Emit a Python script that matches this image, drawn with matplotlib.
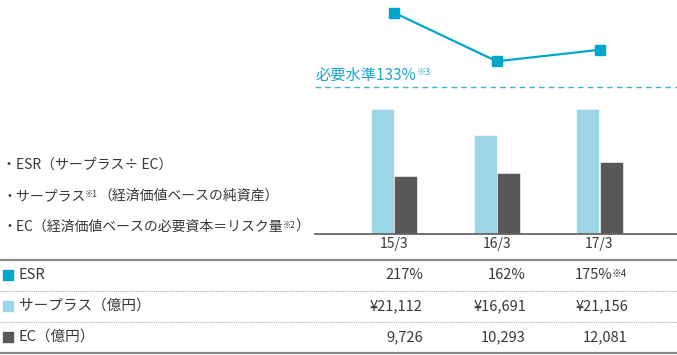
import matplotlib.pyplot as plt
from matplotlib.patches import Rectangle
from matplotlib.lines import Line2D

plt.rcParams['font.family'] = ['Noto Sans CJK JP', 'DejaVu Sans']

# data
periods = ["15/3", "16/3", "17/3"]
esr = [217, 162, 175]
surplus = [21112, 16691, 21156]
ec = [9726, 10293, 12081]
required_level = 133

esr_labels = ["217%", "162%", "175%"]
surplus_labels = ["¥21,112", "¥16,691", "¥21,156"]
ec_labels = ["9,726", "10,293", "12,081"]

c_esr = "#00a7cb"
c_surplus = "#9cd5e5"
c_ec = "#595757"
c_text = "#383838"

W, H = 677, 355
fig = plt.figure(figsize=(W / 100, H / 100), dpi=100)

# background axes in pixel coordinates for text / table layout
bg = fig.add_axes([0, 0, 1, 1])
bg.set_xlim(0, W)
bg.set_ylim(H, 0)
bg.axis("off")


def chain(x, y, parts, size=10, color=c_text):
    base = bg.text(x, y, parts[0][0], fontsize=size, color=color, va="center", ha="left")
    prev = base
    for s, kind in parts[1:]:
        if kind == "sup":
            prev = bg.annotate(s, xy=(1, 0.92), xycoords=prev, fontsize=size * 0.6,
                               color=color, va="top", ha="left")
        else:
            prev = bg.annotate(s, xy=(1, 0.5), xycoords=(prev, base), fontsize=size,
                               color=color, va="center", ha="left")
    return base


# left notes
chain(2, 165, [("・ESR（サープラス÷ EC）", "n")])
chain(2, 196, [("・サープラス", "n"), ("※1", "sup"), ("（経済価値ベースの純資産）", "n")])
chain(2, 227, [("・EC（経済価値ベースの必要資本＝リスク量", "n"), ("※2", "sup"), ("）", "n")])

# bar chart axes (baseline at y=234px, spanning x 315..677)
left_px, right_px, base_px = 315, 677, 234
ax = fig.add_axes([left_px / W, (H - base_px) / H, (right_px - left_px) / W, base_px / H])
ax.patch.set_alpha(0)
step = 102.75
x0 = 394
ax.set_xlim((left_px - x0) / step, (right_px - x0) / step)
ax.set_ylim(0, base_px / 125 * 21112)
xs = list(range(len(periods)))
bw = 0.224
ax.bar([i - bw / 2 for i in xs], surplus, width=bw, color=c_surplus, edgecolor="white", linewidth=0.4)
ax.bar([i + bw / 2 for i in xs], ec, width=bw, color=c_ec, edgecolor="white", linewidth=0.4)
for s in ["top", "right", "left"]:
    ax.spines[s].set_visible(False)
ax.spines["bottom"].set_color("#666666")
ax.spines["bottom"].set_linewidth(1.3)
ax.set_yticks([])
ax.set_xticks(xs)
ax.set_xticklabels(periods, fontsize=10, color=c_text)
ax.tick_params(axis="x", length=0, pad=2)

# ESR line on a twin axis
ax2 = ax.twinx()
ax2.set_ylim(162 - (base_px - 61.3) / 0.884, 162 + 61.3 / 0.884)
ax2.axis("off")
ax2.plot(xs, esr, color=c_esr, linewidth=1.6, marker="s", markersize=6.5)
ax2.axhline(required_level, color="#3eb1d5", linewidth=1, linestyle=(0, (4, 3)))
chain(316, 75, [("必要水準133%", "n"), ("※3", "sup")], size=11, color="#1ea6cc")

# table
bg.add_line(Line2D([0, W], [259.5, 259.5], color="#8a8a8a", linewidth=1.6))
bg.add_line(Line2D([0, W], [291, 291], color="#b0b0b0", linewidth=0.8, linestyle=(0, (1, 1))))
bg.add_line(Line2D([0, W], [322, 322], color="#b0b0b0", linewidth=0.8, linestyle=(0, (1, 1))))
bg.add_line(Line2D([0, W], [352.5, 352.5], color="#8a8a8a", linewidth=1.6))

rows_y = [275, 306, 337]
row_colors = [c_esr, c_surplus, c_ec]
row_names = ["ESR", "サープラス（億円）", "EC（億円）"]
for y, col, name in zip(rows_y, row_colors, row_names):
    bg.add_patch(Rectangle((3, y - 5), 10, 10, color=col))
    bg.text(19, y, name, fontsize=10.5, color=c_text, va="center", ha="left")

col_right = [423, 526, 628]
for j in range(3):
    if j == 2:
        t = bg.text(612, rows_y[0], esr_labels[j], fontsize=10.5, color=c_text, va="center", ha="right")
        bg.annotate("※4", xy=(1, 0.92), xycoords=t, fontsize=7, color=c_text, va="top", ha="left")
    else:
        bg.text(col_right[j], rows_y[0], esr_labels[j], fontsize=10.5, color=c_text, va="center", ha="right")
    bg.text(col_right[j], rows_y[1], surplus_labels[j], fontsize=10.5, color=c_text, va="center", ha="right")
    bg.text(col_right[j], rows_y[2], ec_labels[j], fontsize=10.5, color=c_text, va="center", ha="right")

fig.savefig("out.png", dpi=100)
